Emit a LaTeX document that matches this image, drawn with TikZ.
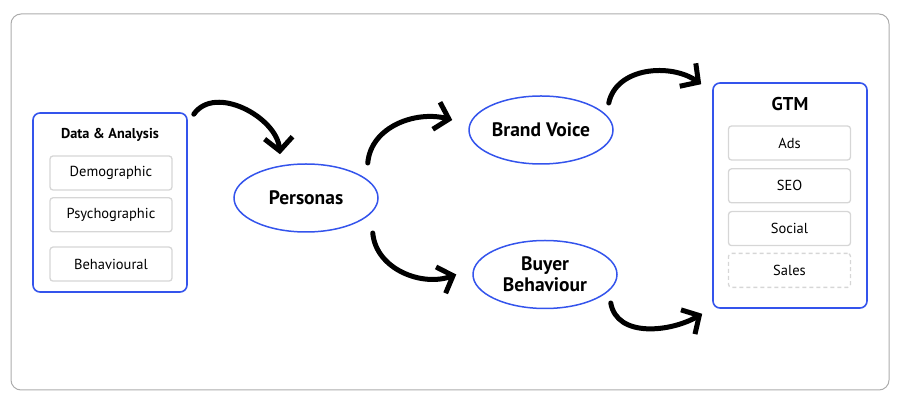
\documentclass[tikz,border=0pt]{standalone}
\usepackage{fontspec}
\setmainfont{PT Sans}
\usetikzlibrary{arrows.meta,positioning,shapes.geometric}
\definecolor{boxblue}{RGB}{52,84,236}
\definecolor{itemgray}{RGB}{214,214,214}
\definecolor{framegray}{RGB}{172,172,172}
\begin{document}
\begin{tikzpicture}[x=1pt,y=1pt,node distance=6.5pt,
panel/.style={
% The shape:
rectangle,rounded corners=7pt,
% The border:
draw=boxblue,line width=1.6pt,
% The size:
minimum width=154pt},
item/.style={
% The shape:
rectangle,rounded corners=3pt,
minimum width=122pt,minimum height=34pt,
% The border:
draw=itemgray,line width=1.3pt,
% Font
font=\fontsize{14.5}{16}\selectfont},
head/.style={font=\bfseries\fontsize{14.3}{16}\selectfont},
bubble/.style={
% The shape:
ellipse,minimum width=144pt,minimum height=68pt,inner sep=0pt,
% The border:
draw=boxblue,line width=1.5pt,
% Font
align=center,font=\bfseries\fontsize{19.5}{21}\selectfont},
flow/.style={line width=5pt,line cap=round,
-{Straight Barb[length=13pt,width=28pt]}}
]
\useasboundingbox (0,0) rectangle (901,406);
\draw[framegray,line width=1pt,rounded corners=10pt] (11,16) rectangle (889,392);

% left panel
\node (da) [panel, minimum height=179pt] at (110,203.5) {};
\node (datitle) [head] at (110,271) {Data \& Analysis};
\node (demo) [item] at (111,233) {Demographic};
\node (psycho) [item, below=of demo] {Psychographic};
\node (behav) [item, below=14pt of psycho] {Behavioural};

% middle
\node (pers) [bubble] at (306,208) {Personas};
\node (bv) [bubble] at (541,276) {Brand Voice};
\node (bb) [bubble] at (545,131.5) {Buyer\\Behaviour};

% right panel
\node (gtm) [panel, minimum height=225pt] at (790,210.5) {};
\node (gtmtitle) [head, font=\bfseries\fontsize{18.5}{20}\selectfont] at (790,302) {GTM};
\node (ads) [item] at (789.5,263) {Ads};
\node (seo) [item, below=7.5pt of ads] {SEO};
\node (soc) [item, below=7.5pt of seo] {Social};
\node (sales) [item, below=of soc, dash pattern=on 4pt off 3pt] {Sales};

\draw [flow] ([xshift=6pt,yshift=-2pt]da.north east) to [out=55,in=95] ([xshift=-26pt,yshift=9pt]pers.north);
\draw [flow] ([xshift=-11pt,yshift=35pt]pers.east) to [out=85,in=165] ([xshift=-16pt,yshift=10pt]bv.west);
\draw [flow] ([xshift=-6pt,yshift=-35pt]pers.east) to [out=-85,in=200] ([xshift=-16pt]bb.west);
\draw [flow] ([xshift=-5pt,yshift=27pt]bv.east) to [out=78,in=145] ([xshift=-11pt,yshift=-2pt]gtm.north west);
\draw [flow] ([xshift=-7pt,yshift=-28.5pt]bb.east) to [out=-80,in=210] ([xshift=-10pt,yshift=-5pt]gtm.south west);
\end{tikzpicture}
\end{document}
